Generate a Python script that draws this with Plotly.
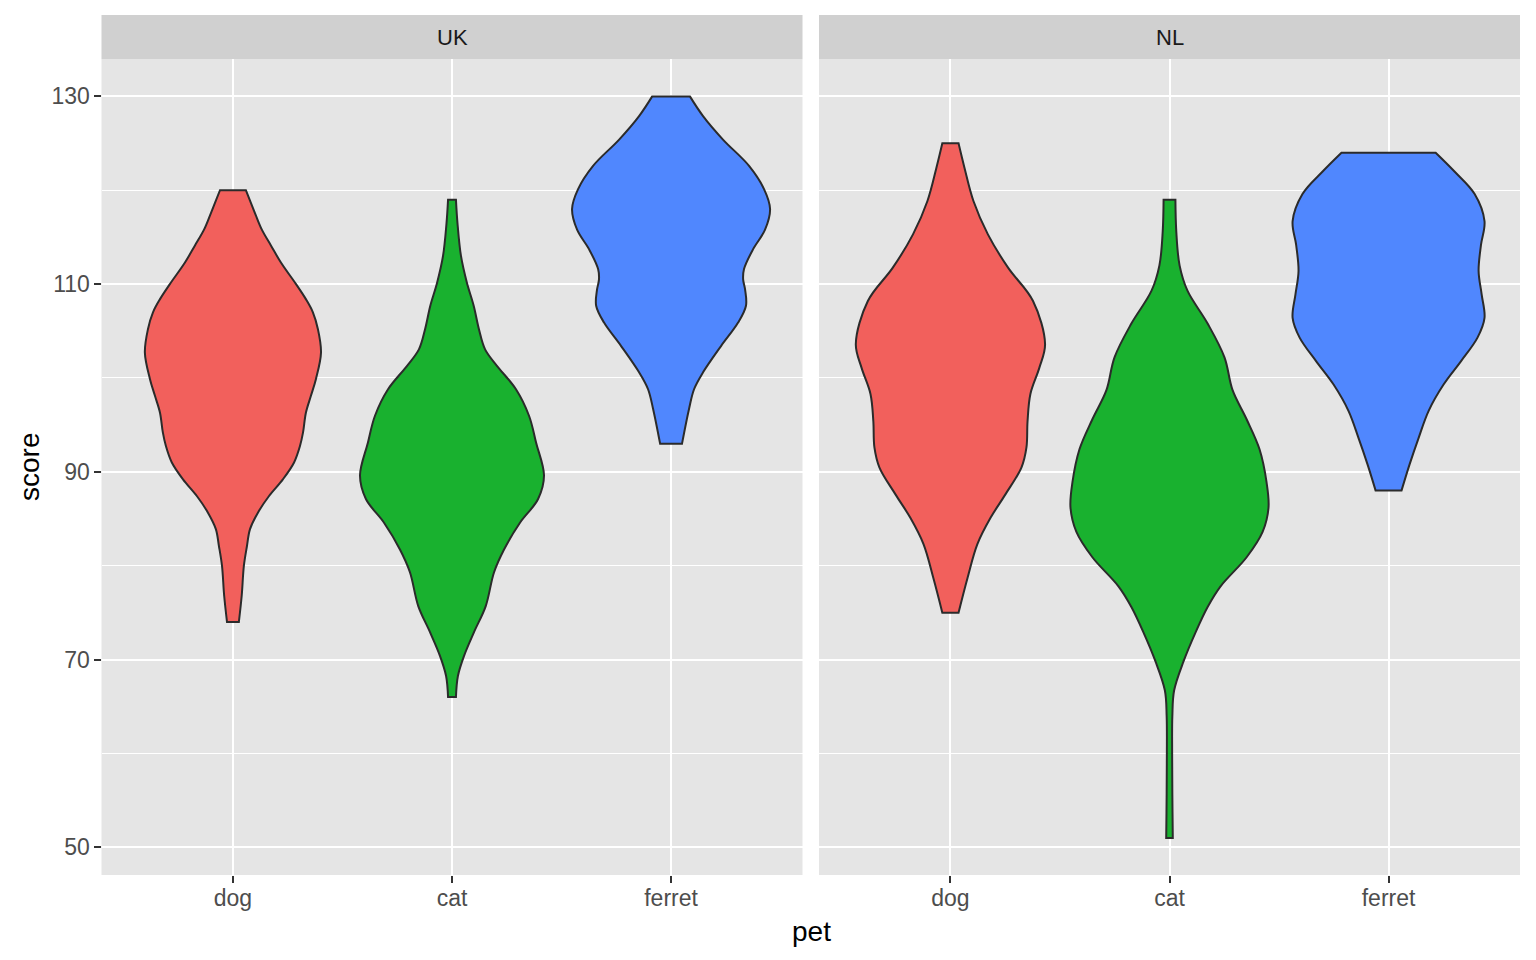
import plotly.graph_objects as go

# ---------------- data ----------------
pets = ["dog", "cat", "ferret"]
countries = ["UK", "NL"]

# violin outlines: score values (top -> bottom) and half-widths in category units
uk_dog_score = [120, 117.6, 115.8, 114.1, 112.3, 110.0, 108.4, 107.0, 105.2, 102.7, 99.9, 98.1,
                96.3, 94.2, 92.75, 91.0, 89.2, 87.4, 85.65, 83.9, 82.1, 80.0, 76.8, 74.0]
uk_dog_half = [0.059, 0.100, 0.132, 0.174, 0.219, 0.288, 0.333, 0.365, 0.388, 0.402, 0.379, 0.356,
               0.333, 0.320, 0.306, 0.279, 0.228, 0.164, 0.114, 0.078, 0.064, 0.050, 0.040, 0.027]

uk_cat_score = [119.0, 116.5, 113.0, 110.15, 107.7, 105.2, 103.05, 101.3, 98.8, 95.95, 93.1,
                89.6, 87.1, 84.6, 81.7, 79.3, 75.7, 72.9, 70.4, 68.25, 66.0]
uk_cat_half = [0.018, 0.025, 0.041, 0.068, 0.099, 0.123, 0.151, 0.205, 0.292, 0.352, 0.384,
               0.420, 0.393, 0.311, 0.237, 0.192, 0.154, 0.100, 0.055, 0.027, 0.018]

uk_ferret_score = [130, 127.9, 125.4, 122.6, 120.1, 118.0, 115.8, 113.7, 111.6, 110.5, 109.4,
                   107.7, 105.9, 103.4, 100.6, 98.8, 96.7, 93.0]
uk_ferret_half = [0.086, 0.146, 0.237, 0.356, 0.425, 0.452, 0.429, 0.374, 0.333, 0.329, 0.338,
                  0.342, 0.306, 0.228, 0.146, 0.105, 0.082, 0.050]

nl_dog_score = [125.0, 122.4, 118.85, 115.3, 111.75, 108.2, 103.6, 101.1, 98.3, 95.4, 92.6,
                90.45, 87.6, 85.1, 82.3, 78.7, 75.0]
nl_dog_half = [0.037, 0.064, 0.105, 0.171, 0.263, 0.377, 0.432, 0.406, 0.365, 0.352, 0.347,
               0.324, 0.251, 0.183, 0.123, 0.078, 0.037]

nl_cat_score = [119.0, 115.6, 112.0, 109.3, 105.8, 102.2, 98.7, 95.6, 92.4, 88.9, 86.2, 83.6,
                80.9, 77.8, 75.6, 72.9, 69.8, 66.7, 64.0, 60.0, 55.6, 51.0]
nl_cat_half = [0.027, 0.031, 0.046, 0.082, 0.174, 0.251, 0.288, 0.352, 0.411, 0.443, 0.452, 0.425,
               0.352, 0.233, 0.174, 0.119, 0.064, 0.021, 0.013, 0.012, 0.013, 0.015]

nl_ferret_score = [124.0, 122.0, 119.6, 116.7, 114.2, 111.4, 108.9, 106.4, 104.3, 101.8, 99.3,
                   96.5, 93.6, 90.8, 88.0]
nl_ferret_half = [0.215, 0.301, 0.393, 0.438, 0.422, 0.411, 0.425, 0.438, 0.406, 0.331, 0.251,
                  0.183, 0.137, 0.096, 0.059]

y_ticks = [50, 70, 90, 110, 130]

# ---------------- styling ----------------
fill_colors = {"dog": "#F2605C", "cat": "#19B12F", "ferret": "#5087FE"}
outline_color = "#2B2B2B"
panel_bg = "#E5E5E5"
strip_bg = "#D0D0D0"
font_family = "Liberation Sans, Arial, Helvetica, sans-serif"

violins = {
    ("UK", "dog"): (uk_dog_score, uk_dog_half),
    ("UK", "cat"): (uk_cat_score, uk_cat_half),
    ("UK", "ferret"): (uk_ferret_score, uk_ferret_half),
    ("NL", "dog"): (nl_dog_score, nl_dog_half),
    ("NL", "cat"): (nl_cat_score, nl_cat_half),
    ("NL", "ferret"): (nl_ferret_score, nl_ferret_half),
}

W, H = 1536, 960
x_domains = {"UK": [101.5 / W, 802.5 / W], "NL": [819 / W, 1520 / W]}
y_domain = [(H - 875) / H, (H - 59.3) / H]
strip_top = (H - 15) / H

fig = go.Figure()

for ci, country in enumerate(countries):
    xref = "x" if ci == 0 else "x2"
    yref = "y" if ci == 0 else "y2"
    for pi, pet in enumerate(pets):
        scores, half = violins[(country, pet)]
        pos = pi + 1
        right_x = [pos + w for w in half]
        left_x = [pos - w for w in reversed(half)]
        right_y = list(scores)
        left_y = list(reversed(scores))
        # repeat the four corner points so the spline keeps the flat ends square
        xs = [right_x[0]] + right_x + [right_x[-1]] + [left_x[0]] + left_x + [left_x[-1]] + [right_x[0]]
        ys = [right_y[0]] + right_y + [right_y[-1]] + [left_y[0]] + left_y + [left_y[-1]] + [right_y[0]]
        fig.add_trace(go.Scatter(
            x=xs, y=ys, xaxis=xref, yaxis=yref,
            mode="lines", fill="toself", fillcolor=fill_colors[pet],
            line=dict(color=outline_color, width=2, shape="spline", smoothing=1, simplify=False),
            hoverinfo="skip", showlegend=False,
        ))

tick_font = dict(family=font_family, size=23, color="#4D4D4D")

common_x = dict(
    range=[0.4, 3.6], tickmode="array", tickvals=[1, 2, 3], ticktext=pets,
    showgrid=True, gridcolor="white", gridwidth=2, zeroline=False, showline=False,
    ticks="outside", ticklen=7, tickwidth=2, tickcolor="#333333", tickfont=tick_font,
    ticklabelstandoff=-5, fixedrange=True,
)
fig.update_layout(
    xaxis=dict(domain=x_domains["UK"], anchor="y", **common_x),
    xaxis2=dict(domain=x_domains["NL"], anchor="y2", **common_x),
    yaxis=dict(
        domain=y_domain, anchor="x", range=[47.05, 133.95],
        tickmode="array", tickvals=y_ticks,
        showgrid=True, gridcolor="white", gridwidth=2, zeroline=False, showline=False,
        ticks="outside", ticklen=7, tickwidth=2, tickcolor="#333333", tickfont=tick_font,
        ticklabelstandoff=-1,
        minor=dict(dtick=10, tick0=50, showgrid=True, gridcolor="white", gridwidth=1, ticks=""),
    ),
    yaxis2=dict(
        domain=y_domain, anchor="x2", matches="y", range=[47.05, 133.95],
        tickmode="array", tickvals=y_ticks, showticklabels=False, ticks="",
        showgrid=True, gridcolor="white", gridwidth=2, zeroline=False, showline=False,
        minor=dict(dtick=10, tick0=50, showgrid=True, gridcolor="white", gridwidth=1, ticks=""),
    ),
    plot_bgcolor=panel_bg,
    paper_bgcolor="white",
    width=W, height=H,
    margin=dict(l=0, r=0, t=0, b=0),
    showlegend=False,
    font=dict(family=font_family),
)

shapes = []
annotations = []
for country in countries:
    d = x_domains[country]
    shapes.append(dict(type="rect", xref="paper", yref="paper",
                       x0=d[0], x1=d[1], y0=y_domain[1], y1=strip_top,
                       fillcolor=strip_bg, line=dict(width=0), layer="below"))
    annotations.append(dict(text=country, xref="paper", yref="paper",
                            x=(d[0] + d[1]) / 2, y=(y_domain[1] + strip_top) / 2,
                            showarrow=False, xanchor="center", yanchor="middle",
                            font=dict(family=font_family, size=22, color="#1A1A1A")))

annotations.append(dict(text="pet", xref="paper", yref="paper",
                        x=811 / W, y=(H - 931) / H, showarrow=False,
                        xanchor="center", yanchor="middle",
                        font=dict(family=font_family, size=28, color="black")))
annotations.append(dict(text="score", xref="paper", yref="paper",
                        x=29 / W, y=(H - 467) / H, showarrow=False, textangle=-90,
                        xanchor="center", yanchor="middle",
                        font=dict(family=font_family, size=28, color="black")))

fig.update_layout(shapes=shapes, annotations=annotations)

fig.write_html("out.html")
